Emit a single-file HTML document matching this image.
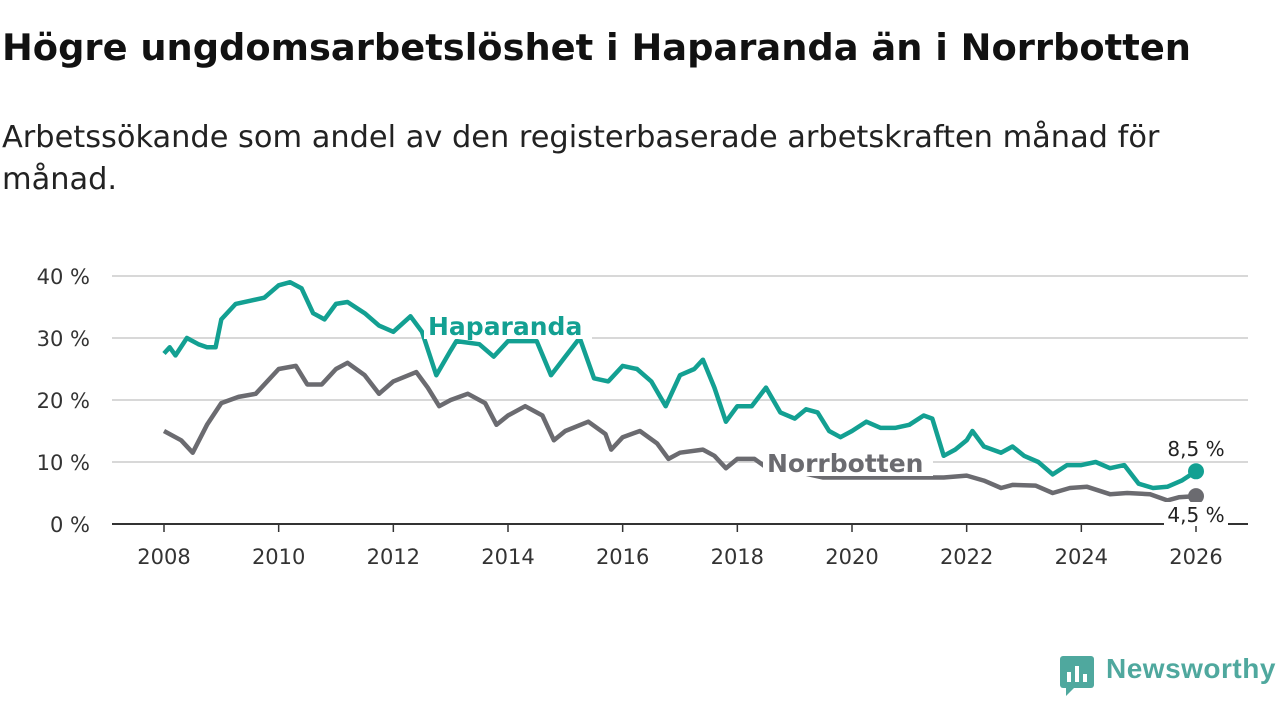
<!DOCTYPE html>
<html><head><meta charset="utf-8"><style>
body{margin:0;width:1280px;height:720px;background:#fff;font-family:"DejaVu Sans","Liberation Sans",sans-serif;overflow:hidden}
h1{position:absolute;left:2px;top:26px;margin:0;font-size:36.8px;font-weight:bold;color:#111;white-space:nowrap}
.sub{position:absolute;left:2px;top:117px;font-size:30.4px;color:#222;line-height:42px;width:1270px}
svg{position:absolute;left:0;top:0}
</style></head><body>
<h1>Högre ungdomsarbetslöshet i Haparanda än i Norrbotten</h1>
<div class="sub">Arbetssökande som andel av den registerbaserade arbetskraften månad för<br>månad.</div>
<svg id="c" width="1280" height="720"></svg>
<script>
const yTicks=[0,10,20,30,40];
const xTicks=[2008,2010,2012,2014,2016,2018,2020,2022,2024,2026];
const hapYears=[2008,2008.1,2008.2,2008.4,2008.6,2008.75,2008.9,2009.0,2009.25,2009.5,2009.75,2010.0,2010.2,2010.4,2010.6,2010.8,2011.0,2011.2,2011.5,2011.75,2012.0,2012.3,2012.5,2012.75,2013.0,2013.1,2013.5,2013.75,2014.0,2014.5,2014.75,2015.0,2015.25,2015.5,2015.75,2016.0,2016.25,2016.5,2016.75,2017.0,2017.25,2017.4,2017.6,2017.8,2018.0,2018.25,2018.5,2018.75,2019.0,2019.2,2019.4,2019.6,2019.8,2020.0,2020.25,2020.5,2020.75,2021.0,2021.25,2021.4,2021.6,2021.8,2022.0,2022.1,2022.3,2022.6,2022.8,2023.0,2023.25,2023.5,2023.75,2024.0,2024.25,2024.5,2024.75,2025.0,2025.25,2025.5,2025.75,2026.0];
const hapVals=[27.5,28.5,27.2,30,29,28.5,28.5,33,35.5,36,36.5,38.5,39,38,34,33,35.5,35.8,34,32,31,33.5,31,24,28,29.5,29,27,29.5,29.5,24,27,30,23.5,23,25.5,25,23,19,24,25,26.5,22,16.5,19,19,22,18,17,18.5,18,15,14,15,16.5,15.5,15.5,16,17.5,17,11,12,13.5,15,12.5,11.5,12.5,11,10,8,9.5,9.5,10,9,9.5,6.5,5.8,6,7,8.5];
const norYears=[2008,2008.3,2008.5,2008.75,2009.0,2009.3,2009.6,2010.0,2010.3,2010.5,2010.75,2011.0,2011.2,2011.5,2011.75,2012.0,2012.4,2012.6,2012.8,2013.0,2013.3,2013.6,2013.8,2014.0,2014.3,2014.6,2014.8,2015.0,2015.4,2015.7,2015.8,2016.0,2016.3,2016.6,2016.8,2017.0,2017.4,2017.6,2017.8,2018.0,2018.3,2018.6,2019.0,2019.5,2020.0,2020.5,2021.0,2021.3,2021.6,2022.0,2022.3,2022.6,2022.8,2023.2,2023.5,2023.8,2024.1,2024.5,2024.8,2025.2,2025.5,2025.7,2026.0];
const norVals=[15,13.5,11.5,16,19.5,20.5,21,25,25.5,22.5,22.5,25,26,24,21,23,24.5,22,19,20,21,19.5,16,17.5,19,17.5,13.5,15,16.5,14.5,12,14,15,13,10.5,11.5,12,11,9,10.5,10.5,8.5,8.5,7.5,7.5,7.5,7.5,7.5,7.5,7.8,7,5.8,6.3,6.2,5,5.8,6,4.8,5,4.8,3.8,4.3,4.5];
const svg=document.getElementById('c');const NS='http://www.w3.org/2000/svg';
const X=v=>164+(v-2008)*(1196-164)/18, Y=v=>524-v*6.2;
function mk(t,a,p){const e=document.createElementNS(NS,t);for(const k in a)e.setAttribute(k,a[k]);(p||svg).appendChild(e);return e;}
yTicks.forEach(v=>{
 if(v>0){const g=mk('line',{x1:112,x2:1248,y1:Y(v),y2:Y(v),stroke:'#d8d8d8','stroke-width':2});
 
 }
 const t=mk('text',{x:90,y:Y(v)+8,'text-anchor':'end','font-size':21,fill:'#333'});t.textContent=v+' %';
 
 
});
xTicks.forEach(v=>{
 const l=mk('line',{x1:X(v),x2:X(v),y1:524,y2:532,stroke:'#333','stroke-width':1.5});
 
 
 const t=mk('text',{x:X(v),y:564,'text-anchor':'middle','font-size':21,fill:'#333'});t.textContent=v;
 
 
});
function line(xs,vs,col,name){
 const d=xs.map((x,i)=>(i?'L':'M')+X(x).toFixed(1)+','+Y(vs[i]).toFixed(1)).join('');
 const p=mk('path',{d:d,fill:'none',stroke:col,'stroke-width':4.5,'stroke-linejoin':'round'});
 
 
 const c=mk('circle',{cx:X(xs[xs.length-1]),cy:Y(vs[vs.length-1]),r:8,fill:col});
 
 
}
line(norYears,norVals,'#6b6b70','norrbotten');
line(hapYears,hapVals,'#13a092','haparanda');
const ax=mk('line',{x1:112,x2:1248,y1:524,y2:524,stroke:'#333','stroke-width':2});


function lab(txt,x,y,col,w,name){
 const r=mk('rect',{x:x-4,y:y-22,width:w,height:26,fill:'#fff'});
 
 
 const t=mk('text',{x:x,y:y,'font-size':25,'font-weight':'bold',fill:col});t.textContent=txt;
 
 
}
lab('Haparanda',428,335,'#13a092',168,'haparanda-label');
lab('Norrbotten',767,472,'#6b6b70',170,'norrbotten-label');
function val(txt,x,y,name){
 const r=mk('rect',{x:x-32,y:y-20,width:64,height:24,fill:'#fff'});
 
 
 const t=mk('text',{x:x,y:y,'font-size':20,fill:'#222','text-anchor':'middle'});t.textContent=txt;
 
 
}
val('8,5 %',1196,456,'haparanda-value-label');
val('4,5 %',1196,522,'norrbotten-value-label');
</script>
<svg width="40" height="42" style="left:1058px;top:654px">
<rect x="2" y="2" width="34" height="32" rx="3" fill="#4fa89e"/><path d="M8 34 L8 42 L16 34Z" fill="#4fa89e"/>
<rect x="9" y="18" width="4" height="10" fill="#fff"/><rect x="17" y="12" width="4" height="16" fill="#fff"/><rect x="25" y="20" width="4" height="8" fill="#fff"/></svg>
<div style="position:absolute;left:1106px;top:653px;font-size:28px;font-weight:bold;color:#4fa89e;font-family:'Liberation Sans',sans-serif;letter-spacing:0.5px">Newsworthy</div>
</body></html>
